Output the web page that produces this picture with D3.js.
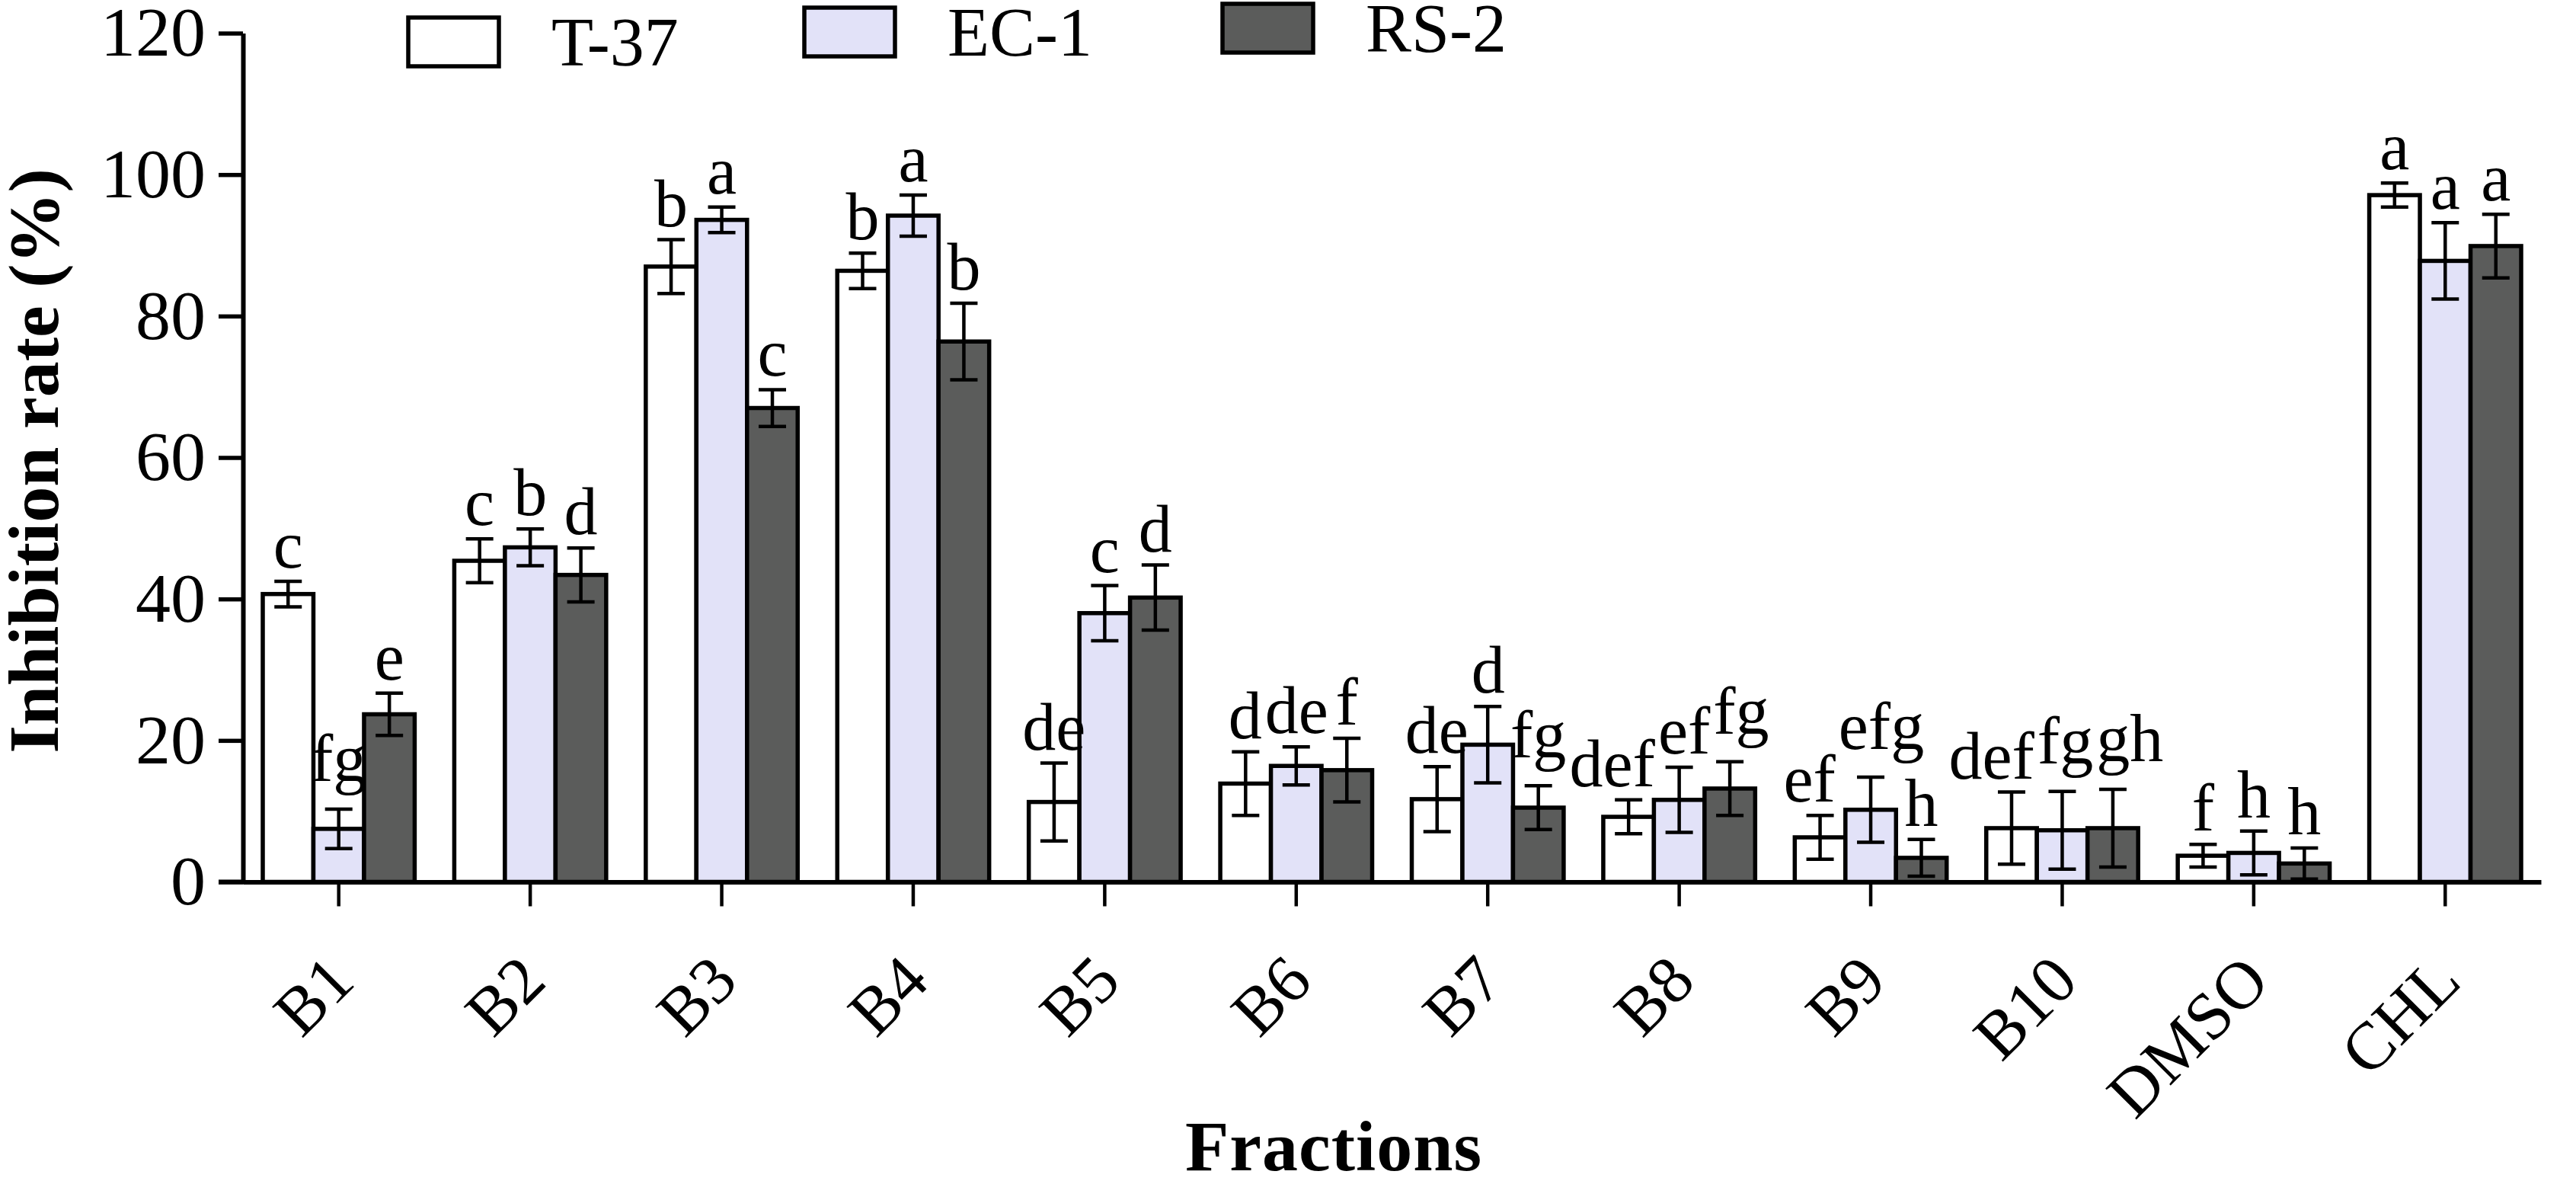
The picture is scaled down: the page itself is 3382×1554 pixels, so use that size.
<!DOCTYPE html>
<html>
<head>
<meta charset="utf-8">
<script src="https://cdn.jsdelivr.net/npm/d3@7"></script>
<style>
  body { margin: 0; background: #fff; }
  svg { display: block; }
  text { font-family: "Liberation Serif", "Times New Roman", serif; fill: #000; }
</style>
</head>
<body>
<div id="chart"></div>
<script>
// data
var categories = ["B1", "B2", "B3", "B4", "B5", "B6", "B7", "B8", "B9", "B10", "DMSO", "CHL"];
var series = ["T-37", "EC-1", "RS-2"];

var t37Mean = [40.7, 45.4, 87.0, 86.4, 11.3, 13.9, 11.7, 9.2, 6.3, 7.6, 3.7, 97.1];
var t37Err  = [1.8, 3.1, 3.8, 2.5, 5.5, 4.5, 4.6, 2.4, 3.1, 5.1, 1.6, 1.7];
var t37Letters = ["c", "c", "b", "b", "de", "d", "de", "def", "ef", "def", "f", "a"];

var ec1Mean = [7.5, 47.3, 93.6, 94.2, 38.0, 16.4, 19.4, 11.6, 10.2, 7.3, 4.1, 87.8];
var ec1Err  = [2.8, 2.6, 1.8, 2.9, 3.9, 2.7, 5.4, 4.6, 4.6, 5.5, 3.1, 5.4];
var ec1Letters = ["fg", "b", "a", "a", "c", "de", "d", "ef", "efg", "fg", "h", "a"];

var rs2Mean = [23.7, 43.4, 67.0, 76.4, 40.2, 15.8, 10.5, 13.2, 3.4, 7.6, 2.6, 89.9];
var rs2Err  = [3.0, 3.8, 2.6, 5.4, 4.6, 4.5, 3.1, 3.8, 2.6, 5.5, 2.2, 4.5];
var rs2Letters = ["e", "d", "c", "b", "d", "f", "fg", "fg", "h", "gh", "h", "a"];

var yTicks = [0, 20, 40, 60, 80, 100, 120];

var W = 3382, H = 1554;
var colors = {"T-37": "#ffffff", "EC-1": "#e2e2f8", "RS-2": "#5b5c5b"};

var rows = [];
[t37Mean, ec1Mean, rs2Mean].forEach(function(means, s) {
    var errs = [t37Err, ec1Err, rs2Err][s];
    var lets = [t37Letters, ec1Letters, rs2Letters][s];
    categories.forEach(function(c, i) {
        rows.push({cat: c, ser: series[s], mean: means[i], err: errs[i], letter: lets[i]});
    });
});

var svg = d3.select("#chart")
    .append("svg")
    .attr("width", W)
    .attr("height", H)

var x0 = d3.scaleBand()
    .domain(categories)
    .range([319, 3336])
    .padding(0);

var x1 = d3.scaleBand()
    .domain(series)
    .range([26, x0.bandwidth() - 26])
    .padding(0);

var y = d3.scaleLinear()
    .domain([0, 120])
    .range([1157.5, 43.5]);

// bars
svg.append("g").selectAll("rect")
    .data(rows)
    .enter()
    .append("rect")
    .attr("x", function(d) { return x0(d.cat) + x1(d.ser); })
    .attr("y", function(d) { return y(d.mean); })
    .attr("width", x1.bandwidth())
    .attr("height", function(d) { return y(0) - y(d.mean); })
    .style("fill", function(d) { return colors[d.ser]; })
    .style("stroke", "#000")
    .style("stroke-width", 5.5);

// error bars
var eb = svg.append("g").selectAll("g")
    .data(rows)
    .enter()
    .append("g")
    .attr("transform", function(d) {
        return "translate(" + (x0(d.cat) + x1(d.ser) + x1.bandwidth() / 2) + ",0)";
    })
    .style("stroke", "#000")
    .style("stroke-width", 4.5);

eb.append("line")
    .attr("y1", function(d) { return y(d.mean - d.err); })
    .attr("y2", function(d) { return y(d.mean + d.err); });
eb.append("line")
    .attr("x1", -18).attr("x2", 18)
    .attr("y1", function(d) { return y(d.mean + d.err); })
    .attr("y2", function(d) { return y(d.mean + d.err); });
eb.append("line")
    .attr("x1", -18).attr("x2", 18)
    .attr("y1", function(d) { return y(d.mean - d.err); })
    .attr("y2", function(d) { return y(d.mean - d.err); });

// significance letters
var letterG = svg.append("g");
var labels = rows.map(function(d) {
    var cx = x0(d.cat) + x1(d.ser) + x1.bandwidth() / 2;
    var base = y(d.mean + d.err) - 18;
    if (/[gpqy]/.test(d.letter)) base -= 19;
    var t = letterG.append("text")
        .attr("text-anchor", "middle")
        .attr("x", cx)
        .attr("y", base)
        .style("font-size", "88px")
        .text(d.letter);
    var w = t.node().getComputedTextLength();
    return {d: d, node: t, x: cx, w: w, top: base - 62, bottom: base + 19};
});

// push apart letters that collide inside one group
categories.forEach(function(c) {
    var grp = labels.filter(function(l) { return l.d.cat === c; });
    for (var k = 0; k < 30; k++) {
        for (var i = 0; i < grp.length - 1; i++) {
            var a = grp[i], b = grp[i + 1];
            var o = (a.x + a.w / 2 + 4) - (b.x - b.w / 2);
            var vert = a.top < b.bottom && b.top < a.bottom;
            if (o > 0 && vert) {
                a.x -= o / 2;
                b.x += o / 2;
            }
        }
    }
    grp.forEach(function(l) { l.node.attr("x", l.x); });
});

// axes
var yAxis = svg.append("g")
    .attr("transform", "translate(319,0)")
    .call(d3.axisLeft(y).tickValues(yTicks).tickSize(32).tickSizeOuter(0).tickPadding(17));
yAxis.select(".domain").style("stroke-width", 6);
yAxis.selectAll(".tick line").style("stroke-width", 5.5);
yAxis.selectAll(".tick text")
    .style("font-family", "Liberation Serif")
    .style("font-size", "92px");

var xAxis = svg.append("g")
    .attr("transform", "translate(0,1157.5)")
    .call(d3.axisBottom(x0).tickSize(32).tickSizeOuter(0));
xAxis.select(".domain").style("stroke-width", 6);
xAxis.selectAll(".tick line").style("stroke-width", 4.5);
xAxis.selectAll(".tick text")
    .attr("x", 0)
    .attr("y", 0)
    .attr("dy", null)
    .attr("text-anchor", "end")
    .attr("transform", "translate(24,134) rotate(-45)")
    .style("font-family", "Liberation Serif")
    .style("font-size", "88px");

// corner piece so the 0 tick and x axis meet
svg.append("line")
    .attr("x1", 287).attr("x2", 322)
    .attr("y1", y(0)).attr("y2", y(0))
    .style("stroke", "#000")
    .style("stroke-width", 6);

// axis titles
svg.append("text")
    .attr("transform", "translate(76,605) rotate(-90)")
    .attr("text-anchor", "middle")
    .style("font-size", "94px")
    .style("font-weight", "bold")
    .text("Inhibition rate (%)");

svg.append("text")
    .attr("x", 1751)
    .attr("y", 1536)
    .attr("text-anchor", "middle")
    .style("font-size", "94px")
    .style("font-weight", "bold")
    .style("letter-spacing", "1px")
    .text("Fractions");

// legend
var legendX = [536, 1056, 1605];
var legendY = [23, 10, 5];
var legend = svg.append("g").selectAll("g")
    .data(series)
    .enter()
    .append("g")
    .attr("transform", function(d, i) { return "translate(" + legendX[i] + "," + legendY[i] + ")"; });

legend.append("rect")
    .attr("width", 119)
    .attr("height", 64)
    .style("fill", function(d) { return colors[d]; })
    .style("stroke", "#000")
    .style("stroke-width", 5.5);

legend.append("text")
    .attr("x", 188)
    .attr("y", 63)
    .style("font-size", "90px")
    .text(function(d) { return d; });
</script>
</body>
</html>
